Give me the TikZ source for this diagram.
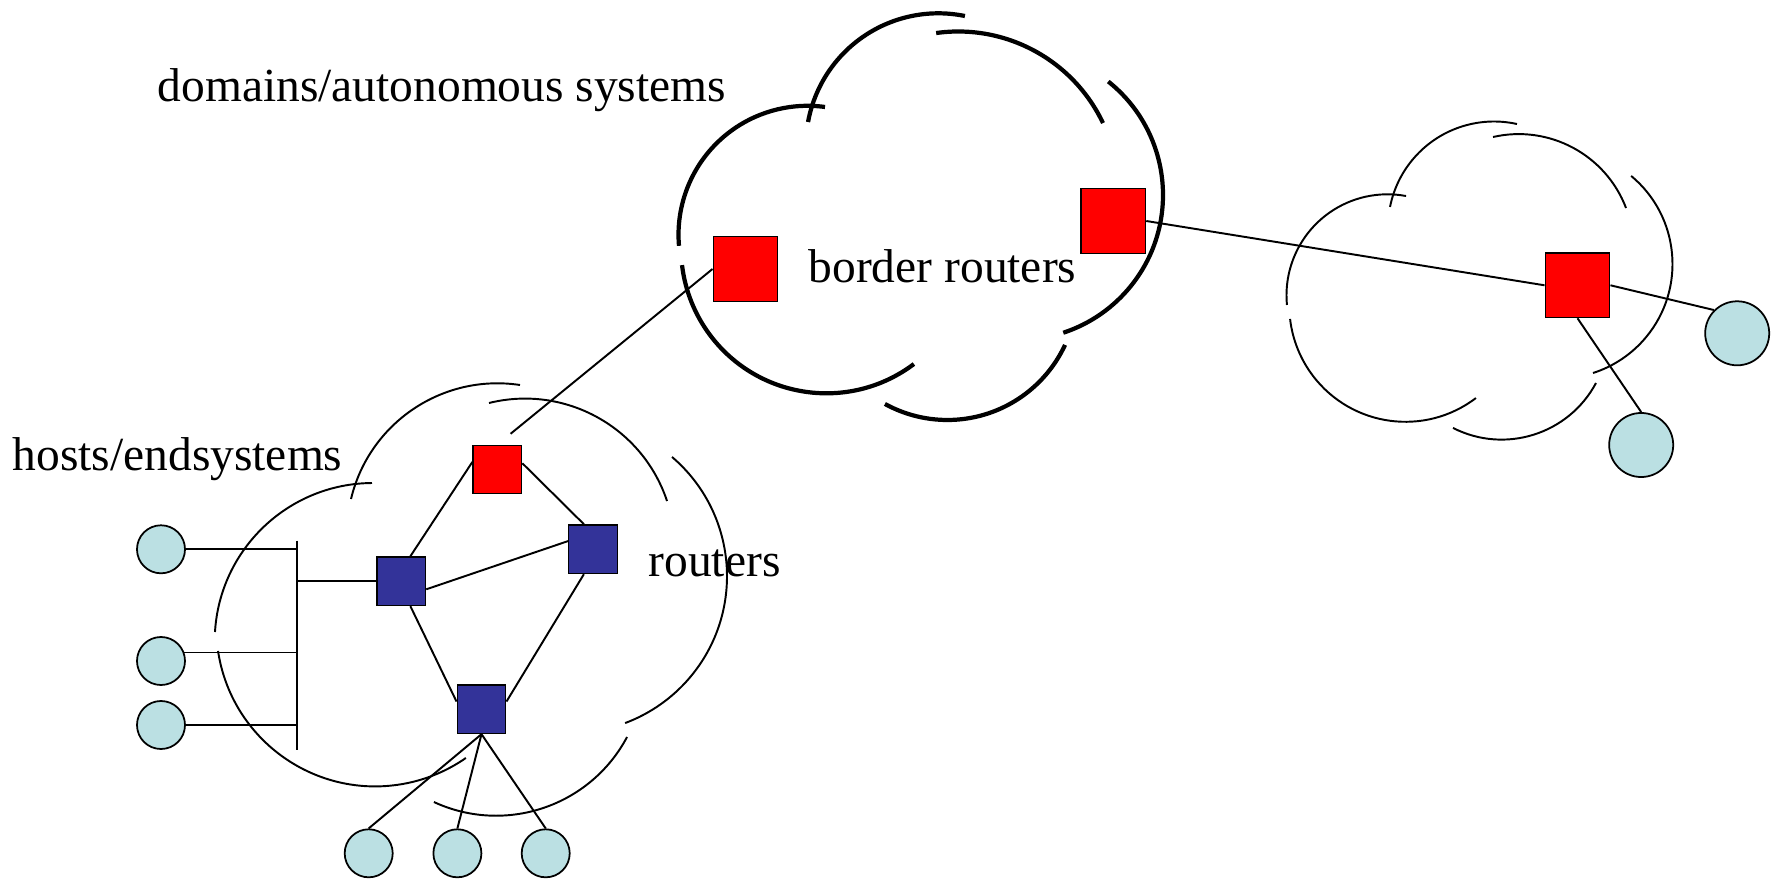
\documentclass[tikz,border=0pt]{standalone}
\usepackage{fontspec}
\setmainfont{Liberation Serif}
\usetikzlibrary{calc}
\definecolor{routerblue}{RGB}{51,51,153}
\definecolor{hostcyan}{RGB}{187,224,227}

\begin{document}
\begin{tikzpicture}[x=0.01cm,y=-0.01cm,
    router/.style={draw=black,fill=routerblue,line width=0.4pt,minimum size=0.485cm,inner sep=0pt},
    redrouter/.style={router,fill=red},
    borderrouter/.style={redrouter,minimum size=0.645cm},
    host/.style={circle,draw=black,fill=hostcyan,line width=0.5pt,minimum size=0.48cm,inner sep=0pt},
    bighost/.style={host,minimum size=0.64cm},
    link/.style={line width=0.55pt},
    thincloud/.style={line width=0.55pt},
    thickcloud/.style={line width=1.2pt},
    lbl/.style={anchor=base west,inner sep=0pt,font=\fontsize{13.5}{16}\selectfont}]
          \useasboundingbox (0,0) rectangle (1778,879);
          % big cloud (domain)
          \draw[thickcloud] (807.5,234.8) ++(175.1:129) arc[start angle=175.1,end angle=277.8,radius=129];
          \draw[thickcloud] (938.3,145.7) ++(190.3:132.4) arc[start angle=190.3,end angle=281.6,radius=132.4];
          \draw[thickcloud] (958.2,191.8) ++(262.1:160.3) arc[start angle=262.1,end angle=334.6,radius=160.3];
          \draw[thickcloud] (1018,195) ++(-51.5:145) arc[start angle=-51.5,end angle=71.8,radius=145];
          \draw[thickcloud] (947.4,290.3) ++(24.9:129.7) arc[start angle=24.9,end angle=118.8,radius=129.7];
          \draw[thickcloud] (826.4,247.9) ++(53:145.4) arc[start angle=53,end angle=173.2,radius=145.4];
          % right cloud
          \draw[thincloud] (1387.5,295.3) ++(174.5:101) arc[start angle=174.5,end angle=280.6,radius=101];
          \draw[thincloud] (1494,227.5) ++(191.2:106) arc[start angle=191.2,end angle=282.5,radius=106];
          \draw[thincloud] (1518.7,249) ++(257.1:114.9) arc[start angle=257.1,end angle=339.1,radius=114.9];
          \draw[thincloud] (1558,264) ++(-50.3:114.5) arc[start angle=-50.3,end angle=72.2,radius=114.5];
          \draw[thincloud] (1501.6,332.6) ++(28.1:107) arc[start angle=28.1,end angle=117,radius=107];
          \draw[thincloud] (1405.5,305.6) ++(52.7:116.2) arc[start angle=52.7,end angle=173.4,radius=116.2];
          % left cloud
          \draw[thincloud] (497.5,533.9) ++(193.4:150.6) arc[start angle=193.4,end angle=278.6,radius=150.6];
          \draw[thincloud] (373.1,641.4) ++(269.6:158.4) arc[start angle=269.6,end angle=183.4,radius=158.4];
          \draw[thincloud] (375.2,627.5) ++(171.5:158.9) arc[start angle=171.5,end angle=55.2,radius=158.9];
          \draw[thincloud] (525,548.3) ++(256.1:149.7) arc[start angle=256.1,end angle=341.6,radius=149.7];
          \draw[thincloud] (570.2,576.2) ++(-49.5:156.8) arc[start angle=-49.5,end angle=69.5,radius=156.8];
          \draw[thincloud] (496.1,667.4) ++(28:148.3) arc[start angle=28,end angle=114.8,radius=148.3];
          % routers and hosts
          \node[borderrouter] (br1) at (745.5,269) {};
          \node[borderrouter] (br2) at (1113.3,221) {};
          \node[borderrouter] (br3) at (1577.5,285.3) {};
          \node[redrouter] (gw) at (497.4,469.5) {};
          \node[router] (r1) at (401.3,581.2) {};
          \node[router] (r2) at (593,549.2) {};
          \node[router] (r3) at (481.5,709.2) {};
          \node[host] (h1) at (161,549.3) {};
          \node[host] (h2) at (161,661) {};
          \node[host] (h3) at (161,725) {};
          \node[host] (h4) at (368.7,853.3) {};
          \node[host] (h5) at (457.4,853.3) {};
          \node[host] (h6) at (545.7,853.3) {};
          \node[bighost] (h7) at (1737.2,333.3) {};
          \node[bighost] (h8) at (1641.2,445) {};
          % ethernet bus
          \coordinate (bustop) at (296.7,540.7);
          \coordinate (busbot) at (296.7,750);
          \draw[link] (bustop) -- (busbot);
          \draw[link] (h1.east) -- (h1.east -| bustop);
          \draw[link] (h2.20) -- (h2.20 -| bustop);
          \draw[link] (h3.east) -- (h3.east -| bustop);
          \draw[link] (r1.west) -- (r1.west -| bustop);
          % links
          \draw[link] (gw.163) -- (r1.70);
          \draw[link] (gw.14) -- (r2.110);
          \draw[link] (r1.-18) -- (r2.162);
          \draw[link] (r1.-70) -- (r3.163);
          \draw[link] (r2.-110) -- (r3.17);
          \draw[link] (r3.south) -- (h4.north);
          \draw[link] (r3.south) -- (h5.north);
          \draw[link] (r3.south) -- (h6.north);
          \draw[link,shorten >=0.17cm] (br1.west) -- (gw.north);
          \draw[link] (br2.east) -- (br3.west);
          \draw[link] (br3.east) -- (h7.north west);
          \draw[link] (br3.south) -- (h8.north);
          % labels
          \node[lbl] (doms) at (157,102) {domains/autonomous systems};
          \node[lbl] (hosts) at (12,470) {hosts/endsystems};
          \node[lbl] (rts) at (648,576) {routers};
          \node[lbl] (brs) at (808,283) {border routers};
        \end{tikzpicture}
\end{document}
